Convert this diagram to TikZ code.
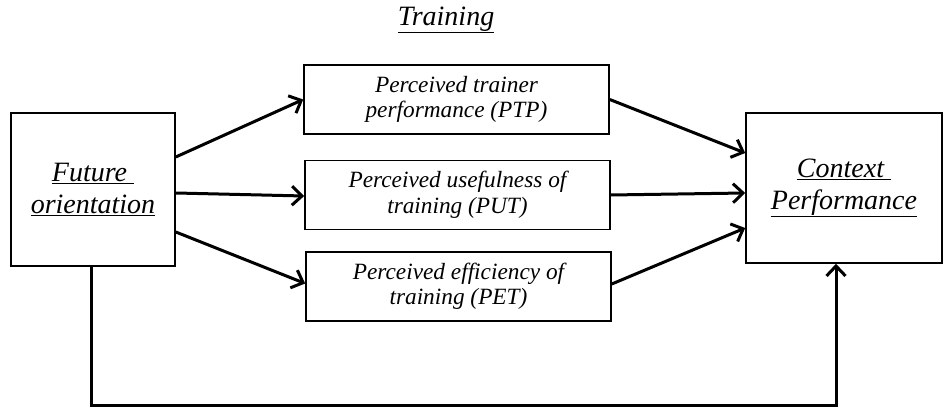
\documentclass[tikz,border=0pt]{standalone}
\usepackage{fontspec}
\setmainfont{Liberation Serif}
\usetikzlibrary{arrows.meta}
\begin{document}
\begin{tikzpicture}[x=1pt,y=1pt,
  box/.style={draw, line width=1.6pt, inner sep=0pt, align=center, font=\itshape},
  bigbox/.style={box, font=\itshape\fontsize{28}{32}\selectfont},
  smallbox/.style={box, minimum width=305pt, minimum height=69pt, font=\itshape\fontsize{23.3}{25.5}\selectfont},
  arr/.style={line width=3pt, -{Straight Barb[length=10pt,width=19pt,line width=3pt]}}]
\fill[white] (0,0) rectangle (943,407);
\useasboundingbox (0,0) rectangle (943,407);
\node[font=\itshape\fontsize{28}{32}\selectfont] (title) at (446,387) {\underline{Training}};
\node[bigbox, minimum width=164pt, minimum height=153pt] (fut) at (93,217.5) {\underline{Future\ }\\\underline{orientation}};
\node[bigbox, minimum width=196pt, minimum height=150pt] (ctx) at (844,219) {\underline{Context\ }\\\underline{Performance}};
\node[smallbox] (ptp) at (456.5,307.5) {Perceived trainer\\performance (PTP)};
\node[smallbox] (put) at (457.5,212) {Perceived usefulness of\\training (PUT)};
\node[smallbox] (pet) at (458.5,120.5) {Perceived efficiency of\\training (PET)};
\draw[arr] ([yshift=32.5pt]fut.east) -- (ptp.west);
\draw[arr] ([yshift=-3.5pt]fut.east) -- ([yshift=-1pt]put.west);
\draw[arr] ([yshift=-42.5pt]fut.east) -- ([yshift=3pt]pet.west);
\draw[arr] (ptp.east) -- ([yshift=35pt]ctx.west);
\draw[arr] (put.east) -- ([yshift=-5pt]ctx.west);
\draw[arr] ([yshift=2.5pt]pet.east) -- ([yshift=-40pt]ctx.west);
\draw[arr] ([xshift=-2pt]fut.south) -- ++(0,-139) -| ([xshift=-8pt]ctx.south);
\end{tikzpicture}
\end{document}
